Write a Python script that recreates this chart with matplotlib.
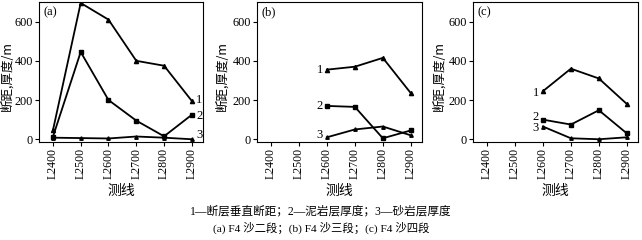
import matplotlib
matplotlib.use("Agg")
import matplotlib.pyplot as plt

lines = ["L2400", "L2500", "L2600", "L2700", "L2800", "L2900"]

# panel (a)
a_s1 = [45, 695, 610, 400, 375, 195]
a_s2 = [12, 445, 200, 95, 15, 125]
a_s3 = [8, 6, 4, 14, 8, 0]
# panel (b) (data from L2600)
b_s1 = [None, None, 355, 370, 415, 235]
b_s2 = [None, None, 170, 165, 5, 45]
b_s3 = [None, None, 10, 50, 65, 20]
# panel (c)
c_s1 = [None, None, 245, 360, 310, 180]
c_s2 = [None, None, 100, 75, 148, 30]
c_s3 = [None, None, 65, 5, 0, 10]

panel_tags = ["(a)", "(b)", "(c)"]
yticks = [0, 200, 400, 600]
ylabel = "断距,厚度/m"
xlabel = "测线"
caption1 = "1—断层垂直断距；2—泥岩层厚度；3—砂岩层厚度"
caption2 = "(a) F4 沙二段；(b) F4 沙三段；(c) F4 沙四段"

W, H = 642, 240
fig = plt.figure(figsize=(W / 100, H / 100), dpi=100)
serif = ["Liberation Serif", "DejaVu Serif"]
cjk = ["Noto Sans CJK SC", "DejaVu Sans"]
mixed = ["Liberation Serif", "Noto Sans CJK SC"]

boxes = [(39, 203), (257, 422), (473, 638)]
ylabel_x = [-0.155, -0.172, -0.166]
top_px, bot_px = 2, 142
data = [(a_s1, a_s2, a_s3), (b_s1, b_s2, b_s3), (c_s1, c_s2, c_s3)]
markers = ["^", "s", "^"]
msizes = [3, 3.5, 2.5]


def clean(vals):
    xs = [i for i, v in enumerate(vals) if v is not None]
    ys = [v for v in vals if v is not None]
    return xs, ys


for k, ((l, r), series) in enumerate(zip(boxes, data)):
    ax = fig.add_axes([l / W, 1 - bot_px / H, (r - l) / W, (bot_px - top_px) / H])
    for s, m, ms in zip(series, markers, msizes):
        xs, ys = clean(s)
        ax.plot(xs, ys, color="black", lw=1.3, marker=m, ms=ms, mfc="black", mec="black")
    ax.set_xlim(-0.5, 5.4)
    ax.set_ylim(-14, 700)
    ax.set_xticks(range(len(lines)))
    ax.set_xticklabels(lines, rotation=90, fontfamily=serif, fontsize=8.5)
    ax.set_yticks(yticks)
    ax.set_yticklabels([str(t) for t in yticks], fontfamily=serif, fontsize=8.8)
    ax.tick_params(direction="out", length=3, width=0.8, pad=1.5)
    for sp in ax.spines.values():
        sp.set_linewidth(0.8)
    ax.set_ylabel(ylabel, fontfamily=cjk, fontsize=9)
    ax.yaxis.set_label_coords(ylabel_x[k], 0.47)
    ax.set_xlabel(xlabel, fontfamily=cjk, fontsize=10, labelpad=3)
    ax.text(0.03, 0.97, panel_tags[k], transform=ax.transAxes, ha="left", va="top",
            fontfamily=serif, fontsize=9)
    # series number labels
    if k == 0:
        for s, lab, dy in zip(series, ["1", "2", "3"], [5, -5, 22]):
            xs, ys = clean(s)
            ax.text(xs[-1] + 0.15, ys[-1] + dy, lab, ha="left", va="center",
                    fontfamily=serif, fontsize=9)
    else:
        offs = [0, 0, 10] if k == 1 else [-10, 12, -10]
        for s, lab, dy in zip(series, ["1", "2", "3"], offs):
            xs, ys = clean(s)
            ax.text(xs[0] - 0.15, ys[0] + dy, lab, ha="right", va="center",
                    fontfamily=serif, fontsize=9)

fig.text(0.5, 1 - 211 / H, caption1, ha="center", va="center", fontfamily=mixed, fontsize=8.4)
fig.text(0.5, 1 - 228 / H, caption2, ha="center", va="center", fontfamily=mixed, fontsize=8.2)

fig.savefig("out.png", dpi=100)
